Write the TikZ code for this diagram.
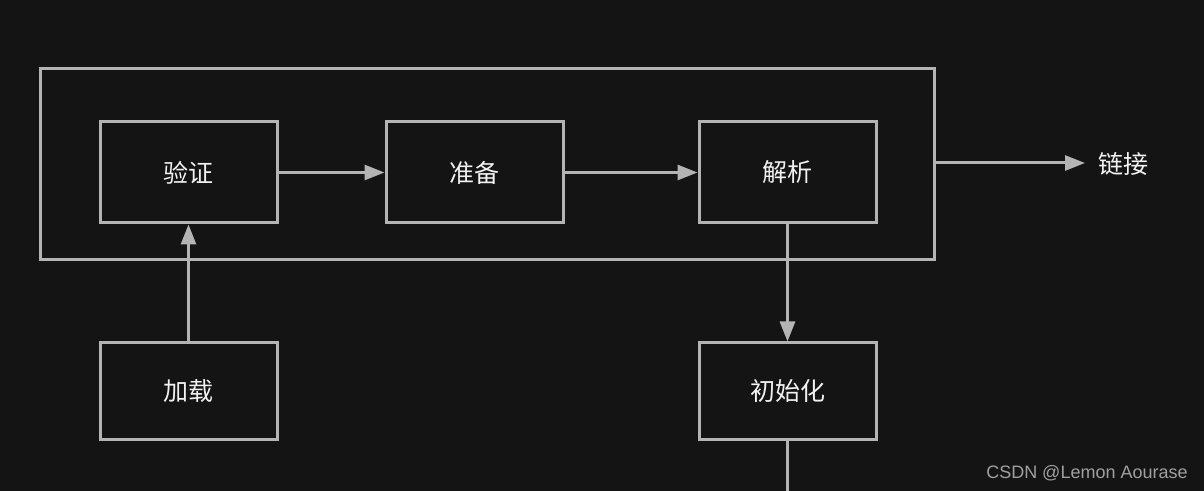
\documentclass[tikz,border=0pt]{standalone}
\usepackage{fontspec}
\newfontfamily\cjk{Noto Sans CJK SC}
\newfontfamily\wm{Liberation Sans}
\usetikzlibrary{arrows.meta}
\definecolor{bg}{HTML}{141414}
\definecolor{stroke}{HTML}{B4B4B4}
\definecolor{txt}{HTML}{F2F2F2}
\definecolor{wmc}{HTML}{A0A0A0}
\begin{document}
\begin{tikzpicture}[x=0.5pt,y=-0.5pt,
  box/.style={draw=stroke,line width=1.5pt,fill=bg,minimum width=88.5pt,minimum height=50.5pt,inner sep=0pt,font=\cjk\fontsize{12.5}{14}\selectfont,text=txt},
  lowbox/.style={box,minimum height=48pt},
  conn/.style={draw=stroke,line width=1.5pt},
  arr/.style={conn,-{Triangle[length=10pt,width=7.5pt]}}]
\fill[bg] (0,0) rectangle (1204,491);
\useasboundingbox (0,0) rectangle (1204,491);
\node[draw=stroke,line width=1.5pt,minimum width=447pt,minimum height=95.5pt,inner sep=0pt] (outer) at (487,164.5) {};
\node[box] (yz) at (188.5,172.5) {验证};
\node[box] (zb) at (474.5,172.5) {准备};
\node[box] (jx) at (787.5,172.5) {解析};
\node[lowbox] (jz) at (188.5,391) {加载};
\node[lowbox] (csh) at (787.5,391) {初始化};
\node[anchor=west,inner sep=0pt,text=txt,font=\cjk\fontsize{12.5}{14}\selectfont] (lj) at (1098,164) {链接};
\coordinate (bot) at (787.5,491);
\coordinate (ljend) at (1085,163);
\draw[arr] (yz.east) -- (zb.west);
\draw[arr] (zb.east) -- (jx.west);
\draw[arr] (jz.north) -- (yz.south);
\draw[arr] (jx.south) -- (csh.north);
\draw[conn] (csh.south) -- (bot);
\draw[arr] (outer.east |- ljend) -- (ljend);
\node[anchor=east,inner sep=0pt,text=wmc,font=\wm\fontsize{9}{10}\selectfont] (wm) at (1188,473) {CSDN @Lemon Aourase};
\end{tikzpicture}
\end{document}
